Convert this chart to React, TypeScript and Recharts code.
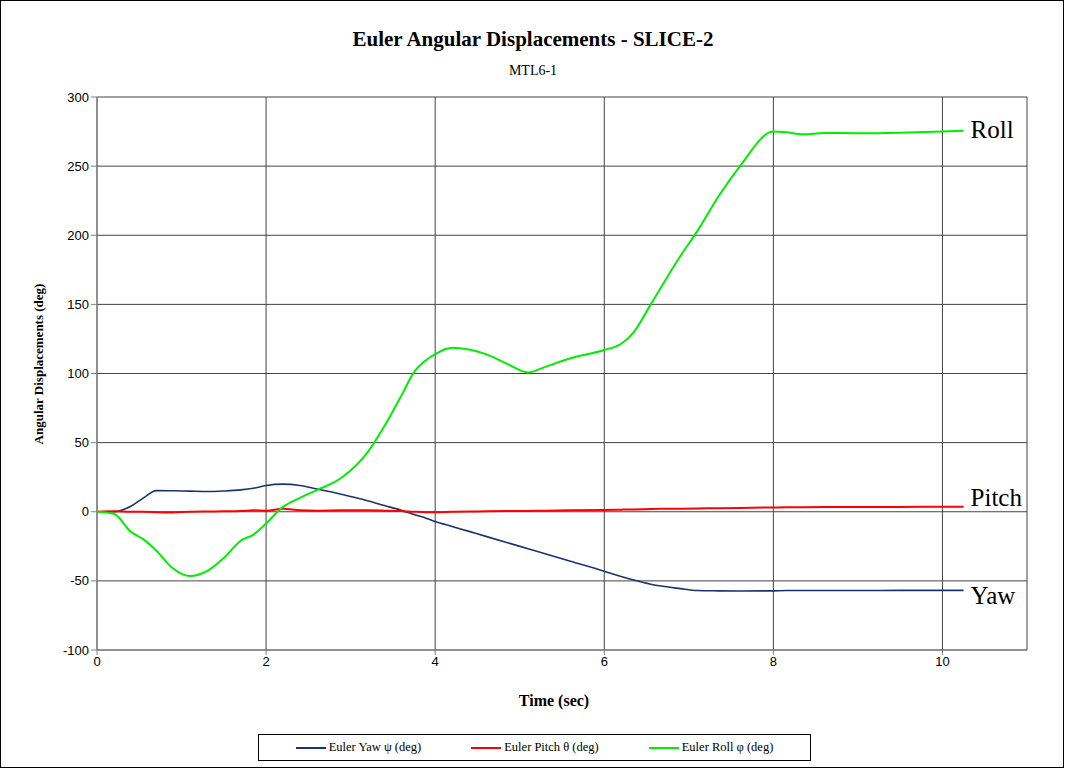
import React from "react"
import { LineChart, Line, XAxis, YAxis, CartesianGrid, LabelList } from "recharts"

const times = [
  0, 0.2, 0.4, 0.55, 0.7, 0.9, 1.1, 1.3, 1.5, 1.7, 1.85, 2.0, 2.2, 2.4, 2.6, 2.9, 3.2, 3.4, 3.6, 3.75,
  3.9, 4.0, 4.2, 4.4, 4.6, 4.85, 5.1, 5.3, 5.6, 6.0, 6.2, 6.35, 6.55, 6.9, 7.1, 7.35, 7.6, 8.0, 8.15,
  8.35, 8.6, 9.0, 9.5, 10.0, 10.25,
]

const yaw = [
  0, 0, 4, 10, 15.3, 15.2, 14.9, 14.6, 15, 15.8, 17, 19, 20, 19, 16.4, 12.5, 8, 4.5, 1, -2,
  -4.8, -7, -10.6, -14.2, -17.8, -22.3, -26.8, -30.4, -35.8, -43, -46.8, -49.4, -52.4, -55.6, -57, -57.2, -57.3, -57.2, -57,
  -57, -57, -57, -56.9, -56.9, -56.9,
]

const pitch = [
  0, 0.3, 0, 0, -0.3, -0.5, 0, 0.2, 0.3, 0.5, 1, 0.8, 2.2, 1, 0.8, 1, 1, 0.8, 0.5, 0,
  -0.3, -0.3, 0, 0.2, 0.3, 0.5, 0.6, 0.8, 1, 1.2, 1.5, 1.7, 2, 2.2, 2.4, 2.6, 2.8, 3.1, 3.2,
  3.3, 3.4, 3.5, 3.5, 3.6, 3.6,
]

const roll = [
  0, -1.5, -14.5, -20, -28, -41, -46.5, -43, -33.5, -21, -16.5, -8.5, 3.5, 10, 15.6, 25, 43, 62, 84, 101,
  110, 114, 118.6, 117.3, 114, 107, 100.7, 104.8, 111, 117, 121.5, 130, 150, 185, 203, 228, 249.5, 275, 274.5,
  273, 274, 273.8, 274.2, 275, 275.5,
]

const xTicks = [0, 2, 4, 6, 8, 10]
const yTicks = [-100, -50, 0, 50, 100, 150, 200, 250, 300]

const series = [
  { key: "yaw", name: "Euler Yaw \u03c8 (deg)", tag: "Yaw", color: "#1a3370", width: 1.6, dy: 5 },
  { key: "pitch", name: "Euler Pitch \u03b8 (deg)", tag: "Pitch", color: "#ff0000", width: 2, dy: -10 },
  { key: "roll", name: "Euler Roll \u03c6 (deg)", tag: "Roll", color: "#00ee00", width: 2, dy: -2 },
]

const data = times.map((t, i) => ({ t, yaw: yaw[i], pitch: pitch[i], roll: roll[i] }))

const serif = "'Liberation Serif', 'Times New Roman', serif"
const sans = "'Liberation Sans', Arial, sans-serif"

export default function App() {
  const last = data.length - 1

  return (
    <div
      style={{
        position: "fixed",
        left: 0,
        top: 0,
        width: 1064,
        height: 768,
        border: "1px solid #000",
        boxSizing: "border-box",
        background: "#fff",
        fontFamily: serif,
      }}
    >
      <div style={{ position: "absolute", left: 0, width: 1064, top: 26, textAlign: "center", fontSize: 21, fontWeight: "bold" }}>
        Euler Angular Displacements - SLICE-2
      </div>
      <div style={{ position: "absolute", left: 0, width: 1064, top: 62, textAlign: "center", fontSize: 14 }}>MTL6-1</div>
      <div
        style={{
          position: "absolute",
          left: 38,
          top: 363,
          transform: "translate(-50%, -50%) rotate(-90deg)",
          whiteSpace: "nowrap",
          fontSize: 13,
          fontWeight: "bold",
        }}
      >
        Angular Displacements (deg)
      </div>
      <div style={{ position: "absolute", left: 553, top: 700, transform: "translate(-50%, -50%)", fontSize: 16, fontWeight: "bold" }}>
        Time (sec)
      </div>

      <div style={{ position: "absolute", left: -1, top: -1 }}>
        <LineChart width={1065} height={769} data={data} margin={{ top: 97, right: 38, bottom: 89, left: 37 }}>
          <CartesianGrid stroke="#444" strokeWidth={1} />
          <XAxis
            dataKey="t"
            type="number"
            domain={[0, 11]}
            ticks={xTicks}
            allowDataOverflow
            stroke="#808080"
            tickLine={{ stroke: "#808080" }}
            tickSize={5}
            tick={{ fill: "#000", fontSize: 13, fontFamily: sans }}
            height={30}
          />
          <YAxis
            type="number"
            domain={[-100, 300]}
            ticks={yTicks}
            stroke="#808080"
            tickLine={{ stroke: "#808080" }}
            tickSize={6}
            tick={{ fill: "#000", fontSize: 13, fontFamily: sans }}
            width={60}
          />
          {series.map((s) => (
            <Line
              key={s.key}
              dataKey={s.key}
              type="monotone"
              stroke={s.color}
              strokeWidth={s.width}
              dot={false}
              activeDot={false}
              isAnimationActive={false}
            >
              <LabelList
                dataKey={s.key}
                content={(p: any) =>
                  p.index === last ? (
                    <text x={p.x + 7} y={p.y + s.dy} dy="0.35em" fontSize={25} fontFamily={serif} fill="#000">
                      {s.tag}
                    </text>
                  ) : null
                }
              />
            </Line>
          ))}
        </LineChart>
      </div>

      <div
        style={{
          position: "absolute",
          left: 257,
          top: 733,
          width: 553,
          height: 27,
          border: "1px solid #000",
          boxSizing: "border-box",
          display: "flex",
          alignItems: "center",
          justifyContent: "center",
          gap: 50,
          fontSize: 12.5,
        }}
      >
        {series.map((s) => (
          <div key={s.key} style={{ display: "flex", alignItems: "center" }}>
            <span style={{ display: "inline-block", width: 30, height: 2, background: s.color, marginRight: 3 }} />
            <span>{s.name}</span>
          </div>
        ))}
      </div>
    </div>
  )
}
